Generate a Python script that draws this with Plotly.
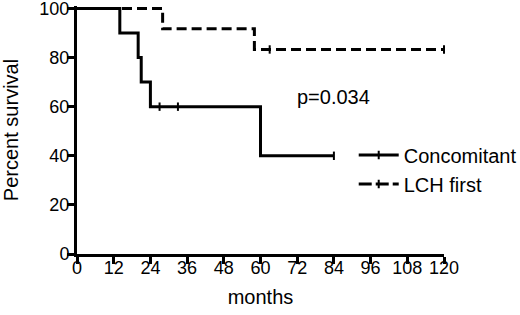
import plotly.graph_objects as go

# Kaplan-Meier step data (months, percent survival)
conc_t = [0, 14, 14, 20, 20, 21, 21, 24, 24, 60, 60, 84]
conc_s = [100, 100, 90, 90, 80, 80, 70, 70, 60, 60, 40, 40]
conc_cens_t = [27, 33, 84]
conc_cens_s = [60, 60, 40]

lch_t = [0, 28, 28, 58, 58, 120]
lch_s = [100, 100, 91.7, 91.7, 83.3, 83.3]
lch_cens_t = [63, 120]
lch_cens_s = [83.3, 83.3]

x_ticks = list(range(0, 121, 12))
y_ticks = list(range(0, 101, 20))

FONT = "Liberation Sans, Arial, sans-serif"
CENS = dict(symbol="line-ns-open", size=6, color="black", line=dict(color="black", width=2))

fig = go.Figure()
fig.add_trace(go.Scatter(x=conc_t, y=conc_s, mode="lines",
                         line=dict(color="black", width=3), showlegend=False))
fig.add_trace(go.Scatter(x=conc_cens_t, y=conc_cens_s, mode="markers",
                         marker=CENS, showlegend=False, cliponaxis=False))
fig.add_trace(go.Scatter(x=lch_t, y=lch_s, mode="lines",
                         line=dict(color="black", width=3, dash="10px,5px"), showlegend=False))
fig.add_trace(go.Scatter(x=lch_cens_t, y=lch_cens_s, mode="markers",
                         marker=CENS, showlegend=False, cliponaxis=False))
# legend entries
fig.add_trace(go.Scatter(x=[None], y=[None], mode="lines+markers", name="Concomitant",
                         line=dict(color="black", width=3), marker=CENS))
fig.add_trace(go.Scatter(x=[None], y=[None], mode="lines+markers", name="LCH first",
                         line=dict(color="black", width=3, dash="13px,4px"), marker=CENS))

fig.add_annotation(x=84, y=64, xref="x", yref="y", text="p=0.034", showarrow=False,
                   font=dict(family=FONT, size=20, color="black"))

fig.update_layout(
    width=520, height=315,
    margin=dict(l=77, r=76, t=5.5, b=61, autoexpand=False),
    paper_bgcolor="white", plot_bgcolor="white",
    font=dict(family=FONT, size=18, color="black"),
    legend=dict(x=0.754, y=0.478, xanchor="left", yanchor="top",
                font=dict(family=FONT, size=20), itemwidth=40,
                bgcolor="rgba(0,0,0,0)", tracegroupgap=0),
)
fig.update_xaxes(range=[0, 120], tickvals=x_ticks, ticktext=[str(v) for v in x_ticks],
                 showgrid=False, zeroline=False, showline=True, linecolor="black", linewidth=3,
                 ticks="outside", ticklen=7, tickwidth=3, tickcolor="black",
                 automargin=False, ticklabeloverflow="allow", ticklabelstandoff=-12,
                 title=dict(text="months", font=dict(family=FONT, size=20), standoff=14),
                 tickfont=dict(family=FONT, size=18))
fig.update_yaxes(range=[0, 101], tickvals=y_ticks, ticktext=[str(v) for v in y_ticks],
                 showgrid=False, zeroline=False, showline=True, linecolor="black", linewidth=3,
                 ticks="outside", ticklen=7, tickwidth=3, tickcolor="black",
                 automargin=False, ticklabeloverflow="allow", ticklabelstandoff=-6,
                 title=dict(text="Percent survival", font=dict(family=FONT, size=20), standoff=23),
                 tickfont=dict(family=FONT, size=18))

fig.write_html("out.html", config={"displayModeBar": False},
               post_script="document.body.style.margin='0';")
